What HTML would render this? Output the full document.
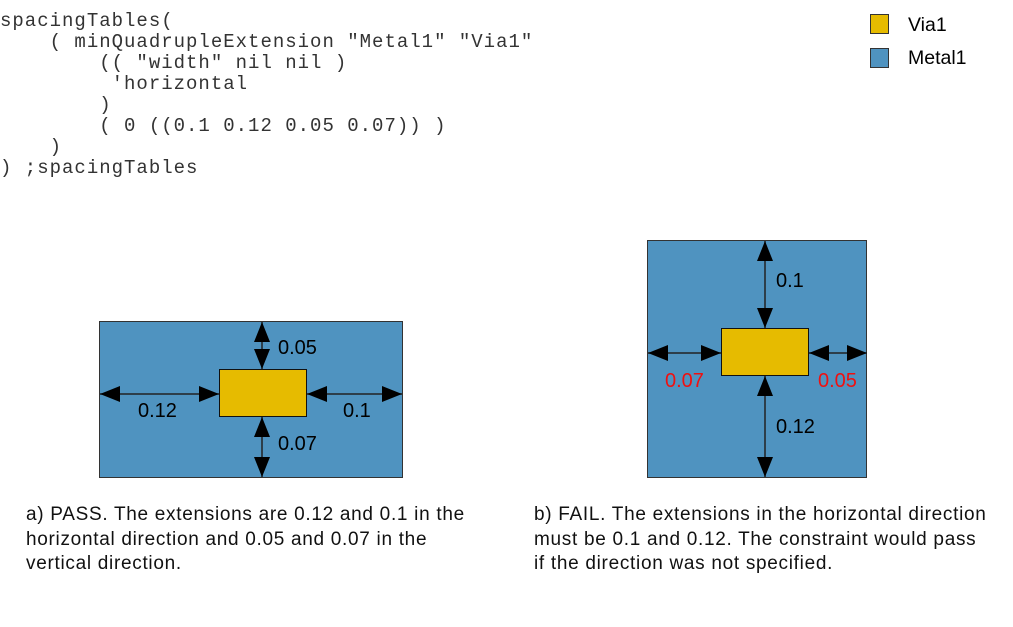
<!DOCTYPE html>
<html><head><meta charset="utf-8"><style>
body{margin:0;background:#fff;width:1013px;height:627px;overflow:hidden;position:relative}
pre{position:absolute;left:0;top:11px;margin:0;font-family:"Liberation Mono",monospace;font-size:19px;letter-spacing:1px;line-height:21px;color:#333}
.cap{position:absolute;font-family:"Liberation Sans",sans-serif;font-size:19px;letter-spacing:0.7px;line-height:24.5px;color:#111}
</style></head><body>
<pre>spacingTables(
    ( minQuadrupleExtension "Metal1" "Via1"
        (( "width" nil nil )
         'horizontal
        )
        ( 0 ((0.1 0.12 0.05 0.07)) )
    )
) ;spacingTables</pre>
<svg width="1013" height="627" style="position:absolute;left:0;top:0" font-family="Liberation Sans, sans-serif" font-size="20">
<defs>
<marker id="a" viewBox="0 0 20 16" refX="20" refY="8" markerWidth="20" markerHeight="16" markerUnits="userSpaceOnUse" orient="auto-start-reverse"><path d="M0 0L20 8L0 16z" fill="#000"/></marker>
</defs>
<rect x="870.5" y="14.5" width="18" height="19" fill="#e6bb00" stroke="#333"/>
<rect x="870.5" y="48.5" width="18" height="19" fill="#4f93c0" stroke="#333"/>
<text x="908" y="31" font-size="19.5">Via1</text>
<text x="908" y="64" font-size="19.5">Metal1</text>

<rect x="99.5" y="321.5" width="303" height="156" fill="#4f93c0" stroke="#333"/>
<rect x="219.5" y="369.5" width="87" height="47" fill="#e6bb00" stroke="#111"/>
<g stroke="#222" stroke-width="1.5" marker-start="url(#a)" marker-end="url(#a)">
<line x1="100" y1="394" x2="219" y2="394"/>
<line x1="307" y1="394" x2="402" y2="394"/>
<line x1="262" y1="322" x2="262" y2="369"/>
<line x1="262" y1="417" x2="262" y2="477"/>
</g>
<text x="278" y="354">0.05</text>
<text x="138" y="417">0.12</text>
<text x="343" y="417">0.1</text>
<text x="278" y="450">0.07</text>

<rect x="647.5" y="240.5" width="219" height="237" fill="#4f93c0" stroke="#333"/>
<rect x="721.5" y="328.5" width="87" height="47" fill="#e6bb00" stroke="#111"/>
<g stroke="#222" stroke-width="1.5" marker-start="url(#a)" marker-end="url(#a)">
<line x1="648" y1="353" x2="721" y2="353"/>
<line x1="809" y1="353" x2="867" y2="353"/>
<line x1="765" y1="241" x2="765" y2="328"/>
<line x1="765" y1="376" x2="765" y2="477"/>
</g>
<text x="776" y="287">0.1</text>
<text x="665" y="387" fill="#f01010">0.07</text>
<text x="818" y="387" fill="#f01010">0.05</text>
<text x="776" y="433">0.12</text>
</svg>
<div class="cap" style="left:26px;top:503px">a) PASS. The extensions are 0.12 and 0.1 in the<br>horizontal direction and 0.05 and 0.07 in the<br>vertical direction.</div>
<div class="cap" style="left:534px;top:503px">b) FAIL. The extensions in the horizontal direction<br>must be 0.1 and 0.12. The constraint would pass<br>if the direction was not specified.</div>
</body></html>
